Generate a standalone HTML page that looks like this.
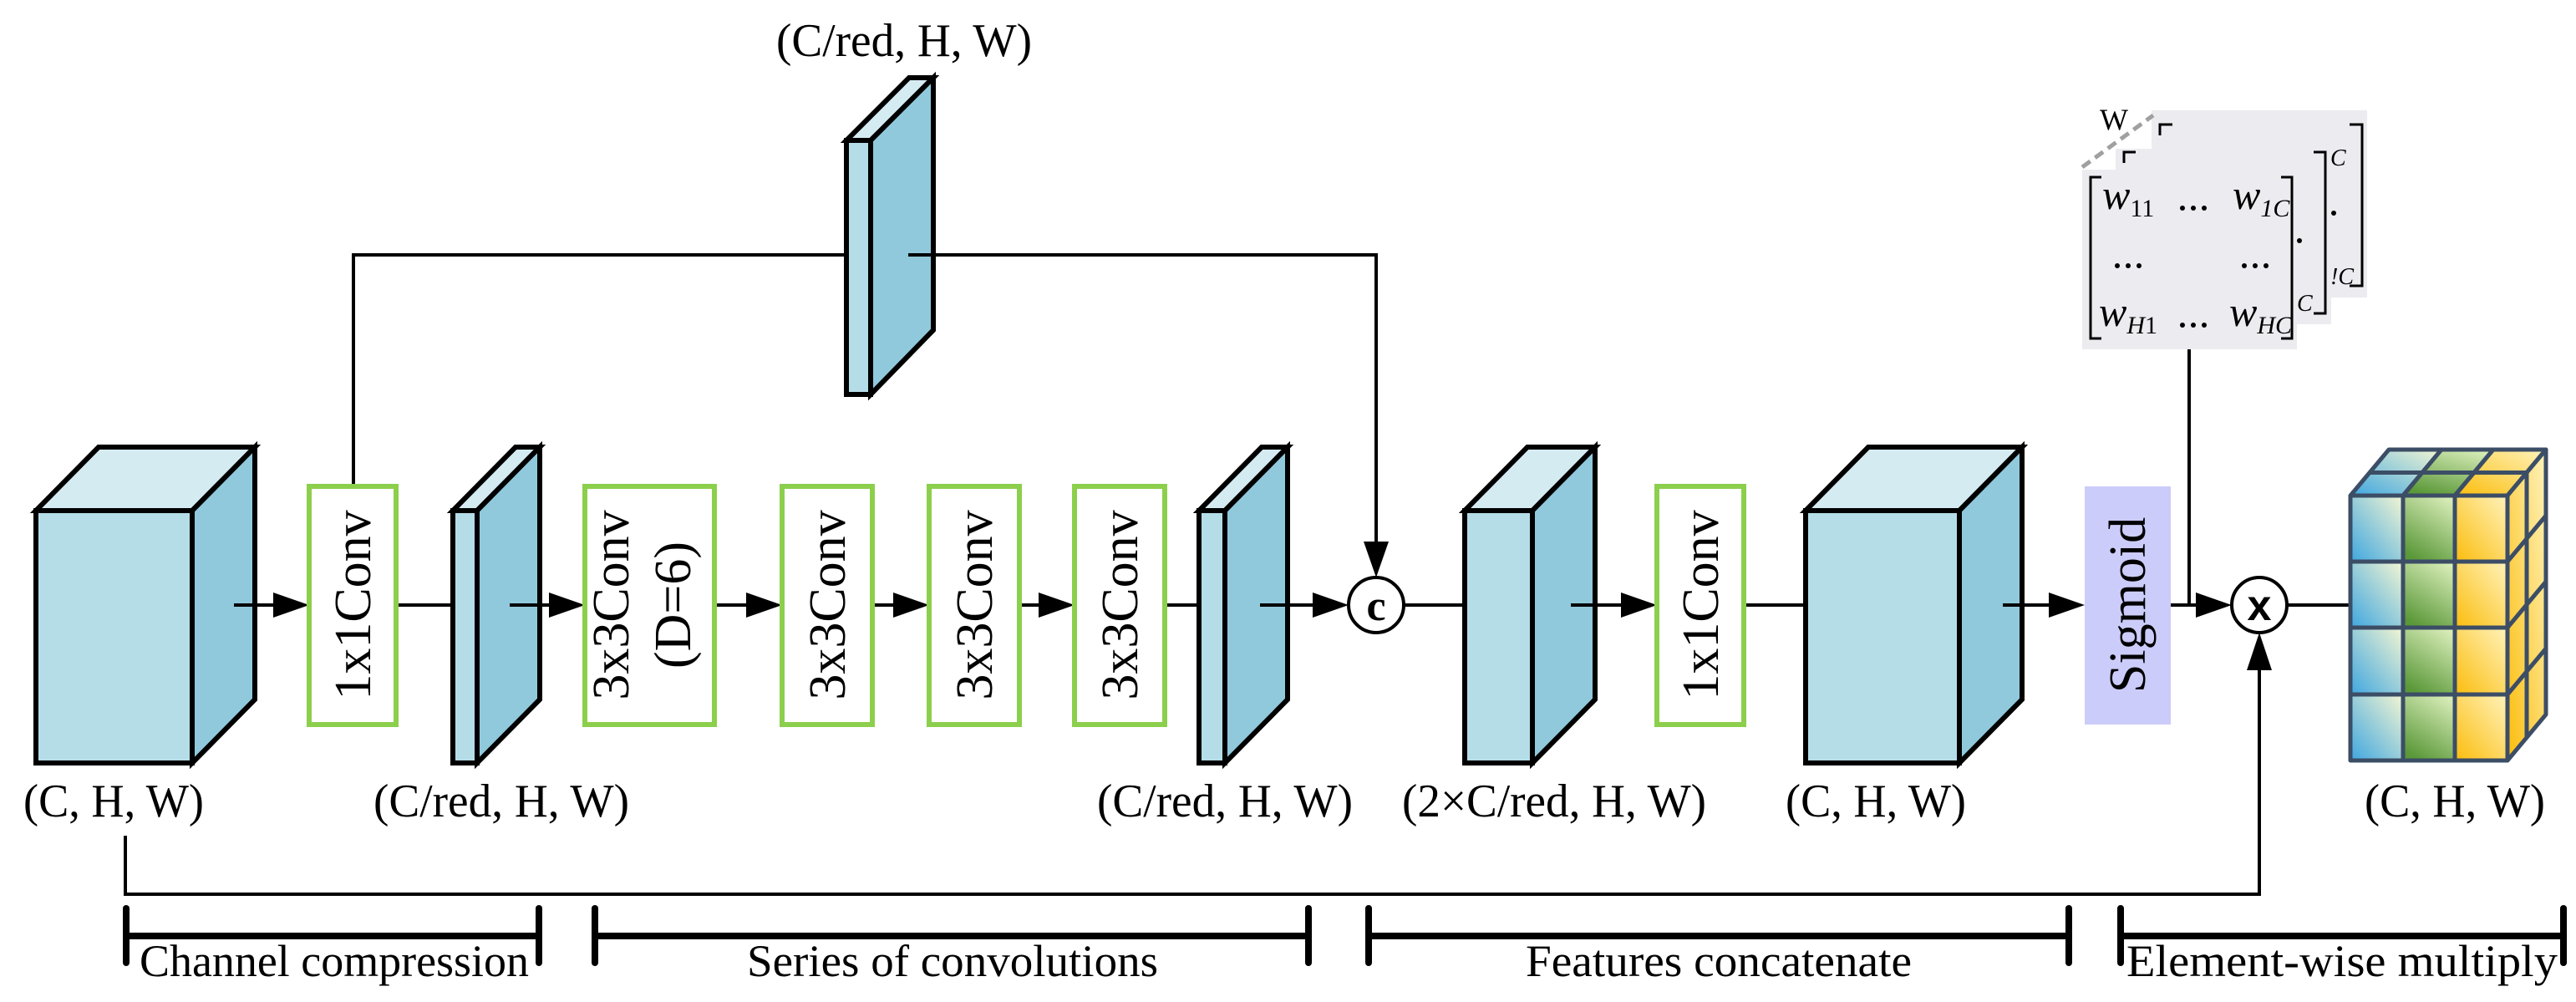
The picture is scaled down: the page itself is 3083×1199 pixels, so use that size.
<!DOCTYPE html>
<html><head><meta charset="utf-8"><style>
html,body{margin:0;padding:0;background:#fff}
svg{display:block}
text{font-family:"Liberation Serif","DejaVu Serif",serif;fill:#000}
</style></head><body>
<svg width="3083" height="1199" viewBox="0 0 3083 1199" xmlns="http://www.w3.org/2000/svg">
<defs>
<linearGradient id="gb" x1="0" y1="1" x2="1" y2="0"><stop offset="0" stop-color="#3ea6e0"/><stop offset="1" stop-color="#f4f6d2"/></linearGradient>
<linearGradient id="gg" x1="0.3" y1="1" x2="0.8" y2="0"><stop offset="0" stop-color="#5a9838"/><stop offset="1" stop-color="#d8edb8"/></linearGradient>
<linearGradient id="gy" x1="0" y1="1" x2="1" y2="0"><stop offset="0" stop-color="#fbbd0c"/><stop offset="1" stop-color="#fff3bc"/></linearGradient>
</defs>

<g stroke="#000" stroke-width="4" fill="none">
<polyline points="423,582 423,305 1647,305 1647,650"/>
<polyline points="150,1000 150,1070 2704,1070 2704,800"/>
<line x1="280" y1="724" x2="330" y2="724"/>
<line x1="474" y1="724" x2="542" y2="724"/>
<line x1="610" y1="724" x2="660" y2="724"/>
<line x1="855" y1="724" x2="895" y2="724"/>
<line x1="1044" y1="724" x2="1072" y2="724"/>
<line x1="1220" y1="724" x2="1246" y2="724"/>
<line x1="1394" y1="724" x2="1435" y2="724"/>
<line x1="1508" y1="724" x2="1572" y2="724"/>
<line x1="1680" y1="724" x2="1753" y2="724"/>
<line x1="1880" y1="724" x2="1942" y2="724"/>
<line x1="2087" y1="724" x2="2161" y2="724"/>
<line x1="2397" y1="724" x2="2452" y2="724"/>
<line x1="2598" y1="724" x2="2630" y2="724"/>
<line x1="2620" y1="418" x2="2620" y2="724"/>
<line x1="2738" y1="724" x2="2813" y2="724"/>
</g>
<g fill="#000">
<polygon points="370,724 327,709 327,739"/>
<polygon points="700,724 657,709 657,739"/>
<polygon points="936,724 893,709 893,739"/>
<polygon points="1112,724 1069,709 1069,739"/>
<polygon points="1286,724 1243,709 1243,739"/>
<polygon points="1614,724 1571,709 1571,739"/>
<polygon points="1983,724 1940,709 1940,739"/>
<polygon points="2495,724 2452,709 2452,739"/>
<polygon points="2671,724 2628,709 2628,739"/>
<polygon points="1647,691 1632,648 1662,648"/>
<polygon points="2704,757 2689,802 2719,802"/>
</g>

<g stroke="#000" stroke-width="6" stroke-linejoin="miter">
<polygon points="43,611 118,535 305,535 230,611" fill="#d5ebf2"/>
<polygon points="230,611 305,535 305,837 230,913" fill="#90c9dc"/>
<rect x="43" y="611" width="187" height="302" fill="#b5dde8"/>
<polygon points="542,611 617,535 646,535 571,611" fill="#d5ebf2"/>
<polygon points="571,611 646,535 646,837 571,913" fill="#90c9dc"/>
<rect x="542" y="611" width="29" height="302" fill="#b5dde8"/>
<polygon points="1013,168 1088,93 1117,93 1042,168" fill="#d5ebf2"/>
<polygon points="1042,168 1117,93 1117,395 1042,472" fill="#90c9dc"/>
<rect x="1013" y="168" width="29" height="304" fill="#b5dde8"/>
<polygon points="1435,611 1510,535 1541,535 1466,611" fill="#d5ebf2"/>
<polygon points="1466,611 1541,535 1541,837 1466,913" fill="#90c9dc"/>
<rect x="1435" y="611" width="31" height="302" fill="#b5dde8"/>
<polygon points="1753,611 1828,535 1909,535 1834,611" fill="#d5ebf2"/>
<polygon points="1834,611 1909,535 1909,837 1834,913" fill="#90c9dc"/>
<rect x="1753" y="611" width="81" height="302" fill="#b5dde8"/>
<polygon points="2161,611 2236,535 2420,535 2345,611" fill="#d5ebf2"/>
<polygon points="2345,611 2420,535 2420,837 2345,913" fill="#90c9dc"/>
<rect x="2161" y="611" width="184" height="302" fill="#b5dde8"/>
</g>
<g stroke="#000" stroke-width="4">
<line x1="1087" y1="305" x2="1117" y2="305"/>
<line x1="280" y1="724" x2="305" y2="724"/>
<line x1="610" y1="724" x2="646" y2="724"/>
<line x1="1508" y1="724" x2="1541" y2="724"/>
<line x1="1880" y1="724" x2="1909" y2="724"/>
<line x1="2397" y1="724" x2="2420" y2="724"/>
</g>

<g fill="#fff" stroke="#8ccf4c" stroke-width="6">
<rect x="370" y="582" width="104" height="285"/>
<rect x="700" y="582" width="155" height="285"/>
<rect x="936" y="582" width="108" height="285"/>
<rect x="1112" y="582" width="108" height="285"/>
<rect x="1286" y="582" width="108" height="285"/>
<rect x="1983" y="582" width="104" height="285"/>
</g>
<rect x="2495" y="582" width="103" height="285" fill="#ccccfa"/>
<g font-size="62" text-anchor="middle">
<text transform="translate(443,724) rotate(-90)">1x1Conv</text>
<text transform="translate(752,724) rotate(-90)">3x3Conv</text>
<text transform="translate(826,724) rotate(-90)">(D=6)</text>
<text transform="translate(1011,724) rotate(-90)">3x3Conv</text>
<text transform="translate(1187,724) rotate(-90)">3x3Conv</text>
<text transform="translate(1361,724) rotate(-90)">3x3Conv</text>
<text transform="translate(2056,724) rotate(-90)">1x1Conv</text>
<text transform="translate(2567,724) rotate(-90)">Sigmoid</text>
</g>

<circle cx="1647" cy="724" r="33" fill="#fff" stroke="#000" stroke-width="4"/>
<text x="1647" y="742" font-size="52" font-weight="bold" text-anchor="middle">c</text>
<circle cx="2704" cy="724" r="33" fill="#fff" stroke="#000" stroke-width="4"/>
<text x="2704" y="742" font-size="52" font-weight="bold" text-anchor="middle" style="font-family:'Liberation Sans',sans-serif">x</text>

<rect x="2575" y="132" width="258" height="224" fill="#ecebf0"/>
<rect x="2532" y="178" width="258" height="210" fill="#ecebf0"/>
<rect x="2492" y="203" width="257" height="215" fill="#ecebf0"/>
<line x1="2492" y1="200" x2="2577" y2="138" stroke="#a0a0a0" stroke-width="5" stroke-dasharray="12,7"/>
<text x="2530" y="155" font-size="36" text-anchor="middle">W</text>
<g stroke="#000" stroke-width="3" fill="none">
<polyline points="2600,149 2585,149 2585,162"/>
<polyline points="2812,149 2827,149 2827,342 2812,342"/>
<polyline points="2556,182 2542,182 2542,195"/>
<polyline points="2769,182 2783,182 2783,375 2769,375"/>
<polyline points="2515,212 2502,212 2502,405 2515,405"/>
<polyline points="2730,212 2743,212 2743,405 2730,405"/>
</g>
<g font-style="italic" font-size="50">
<text x="2789" y="198" font-size="28">C</text>
<text x="2789" y="340" font-size="28">!C</text>
<text x="2749" y="372" font-size="28">C</text>
<text x="2516" y="250">w<tspan font-style="normal" font-size="30" dy="9">11</tspan></text>
<text x="2672" y="250">w<tspan font-size="30" dy="9">1C</tspan></text>
<text x="2512" y="390">w<tspan font-size="30" dy="9">H</tspan><tspan font-style="normal" font-size="30">1</tspan></text>
<text x="2668" y="390">w<tspan font-size="30" dy="9">HC</tspan></text>
</g>
<g fill="#000">
<circle cx="2793" cy="255" r="3"/><circle cx="2752" cy="288" r="3"/>
<circle cx="2612" cy="249" r="3"/><circle cx="2625" cy="249" r="3"/><circle cx="2638" cy="249" r="3"/>
<circle cx="2534" cy="318" r="3"/><circle cx="2547" cy="318" r="3"/><circle cx="2560" cy="318" r="3"/>
<circle cx="2686" cy="318" r="3"/><circle cx="2699" cy="318" r="3"/><circle cx="2712" cy="318" r="3"/>
<circle cx="2612" cy="389" r="3"/><circle cx="2625" cy="389" r="3"/><circle cx="2638" cy="389" r="3"/>
</g>

<g stroke="#3c4d66" stroke-width="5" stroke-linejoin="round">
<polygon points="2813,593 2876,593 2922,538 2859,538" fill="url(#gb)"/>
<polygon points="2876,593 2938,593 2984,538 2922,538" fill="url(#gg)"/>
<polygon points="2938,593 3001,593 3047,538 2984,538" fill="url(#gy)"/>
<polygon points="3001,593 3047,538 3047,855 3001,910" fill="url(#gy)"/>
<line x1="2836" y1="565.5" x2="3024" y2="565.5"/>
<line x1="3024" y1="565.5" x2="3024" y2="882.5"/>
<line x1="3001" y1="672" x2="3047" y2="617"/>
<line x1="3001" y1="751" x2="3047" y2="696"/>
<line x1="3001" y1="831" x2="3047" y2="776"/>
<rect x="2813" y="593" width="63" height="79" fill="url(#gb)"/>
<rect x="2813" y="672" width="63" height="79" fill="url(#gb)"/>
<rect x="2813" y="751" width="63" height="80" fill="url(#gb)"/>
<rect x="2813" y="831" width="63" height="79" fill="url(#gb)"/>
<rect x="2876" y="593" width="62" height="79" fill="url(#gg)"/>
<rect x="2876" y="672" width="62" height="79" fill="url(#gg)"/>
<rect x="2876" y="751" width="62" height="80" fill="url(#gg)"/>
<rect x="2876" y="831" width="62" height="79" fill="url(#gg)"/>
<rect x="2938" y="593" width="63" height="79" fill="url(#gy)"/>
<rect x="2938" y="672" width="63" height="79" fill="url(#gy)"/>
<rect x="2938" y="751" width="63" height="80" fill="url(#gy)"/>
<rect x="2938" y="831" width="63" height="79" fill="url(#gy)"/>
</g>

<g font-size="56" text-anchor="middle">
<text x="1082" y="67" textLength="306" lengthAdjust="spacingAndGlyphs">(C/red, H, W)</text>
<text x="136" y="977" textLength="216" lengthAdjust="spacingAndGlyphs">(C, H, W)</text>
<text x="600" y="977" textLength="306" lengthAdjust="spacingAndGlyphs">(C/red, H, W)</text>
<text x="1466" y="977" textLength="306" lengthAdjust="spacingAndGlyphs">(C/red, H, W)</text>
<text x="1860" y="977" textLength="364" lengthAdjust="spacingAndGlyphs">(2×C/red, H, W)</text>
<text x="2245" y="977" textLength="216" lengthAdjust="spacingAndGlyphs">(C, H, W)</text>
<text x="2938" y="977" textLength="216" lengthAdjust="spacingAndGlyphs">(C, H, W)</text>
</g>

<g stroke="#000" stroke-width="8" stroke-linecap="round">
<line x1="151" y1="1120" x2="645" y2="1120"/><line x1="151" y1="1087" x2="151" y2="1152"/><line x1="645" y1="1087" x2="645" y2="1152"/>
<line x1="712" y1="1120" x2="1566" y2="1120"/><line x1="712" y1="1087" x2="712" y2="1152"/><line x1="1566" y1="1087" x2="1566" y2="1152"/>
<line x1="1638" y1="1120" x2="2476" y2="1120"/><line x1="1638" y1="1087" x2="1638" y2="1152"/><line x1="2476" y1="1087" x2="2476" y2="1152"/>
<line x1="2538" y1="1120" x2="3068" y2="1120"/><line x1="2538" y1="1087" x2="2538" y2="1152"/><line x1="3068" y1="1087" x2="3068" y2="1152"/>
</g>
<g font-size="54" text-anchor="middle">
<text x="400" y="1168" textLength="466" lengthAdjust="spacingAndGlyphs">Channel compression</text>
<text x="1140" y="1168" textLength="492" lengthAdjust="spacingAndGlyphs">Series of convolutions</text>
<text x="2057" y="1168" textLength="462" lengthAdjust="spacingAndGlyphs">Features concatenate</text>
<text x="2803" y="1168" textLength="516" lengthAdjust="spacingAndGlyphs">Element-wise multiply</text>
</g>
</svg>
</body></html>
